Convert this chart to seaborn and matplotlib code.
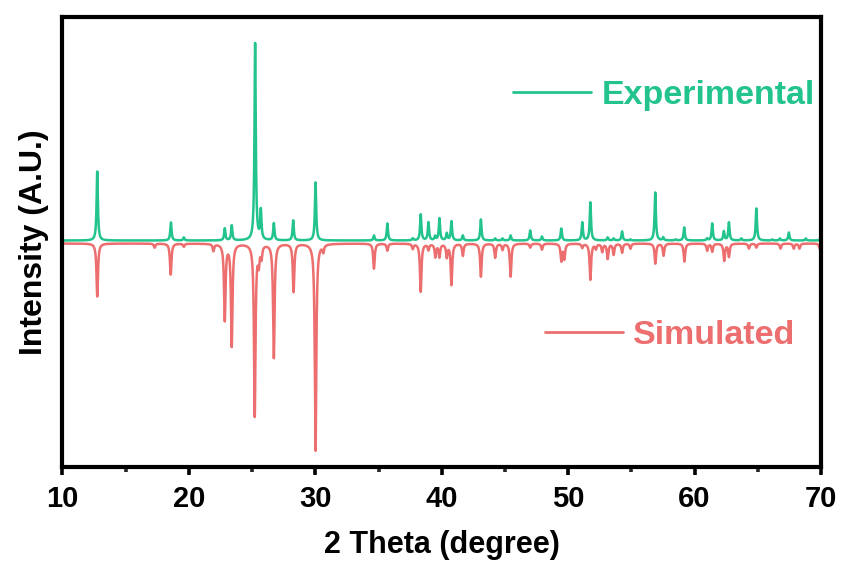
import numpy as np
import pandas as pd
import matplotlib
matplotlib.use("Agg")
import matplotlib.pyplot as plt
import seaborn as sns
from matplotlib.lines import Line2D
from matplotlib.ticker import MultipleLocator

# Peak positions (2θ, degree) and heights (arbitrary units)
exp_pos = [12.75, 18.58, 19.6, 22.84, 23.39, 25.24, 25.69, 26.72, 28.25, 30.02,
           34.64, 35.70, 37.71, 38.34, 38.95, 39.48, 39.82, 40.40, 40.77, 41.67,
           43.10, 44.23, 44.81, 45.45, 47.00, 47.93, 49.46, 51.12, 51.76, 53.13,
           53.60, 54.27, 54.93, 56.89, 57.52, 58.50, 59.18, 61.00, 61.40, 62.32,
           62.72, 63.70, 64.89, 66.15, 66.75, 67.46, 68.80, 69.95]
exp_int = [69, 18, 3, 12, 15, 197, 29, 17, 20, 58,
           5, 17, 2, 26, 18, 4, 22, 7, 19, 5,
           21, 2, 2, 5, 10, 4, 12, 18, 38, 3,
           2, 9, 1, 48, 3, 1, 13, 2, 17, 9,
           18, 2, 32, 1, 2, 8, 2, 2]

sim_pos = [12.75, 17.29, 18.56, 19.6, 21.94, 22.84, 23.39, 25.21, 25.53, 25.74,
           26.72, 28.28, 30.02, 30.63, 34.64, 35.70, 37.71, 38.34, 38.95, 39.50,
           39.82, 40.40, 40.77, 41.67, 43.10, 44.23, 44.81, 45.45, 47.00, 47.93,
           49.46, 49.70, 51.12, 51.76, 52.20, 52.70, 53.13, 53.60, 54.27, 54.93,
           56.90, 57.55, 59.20, 61.00, 61.40, 62.35, 62.72, 64.30, 64.89, 66.80,
           67.85, 68.30, 69.90]
sim_int = [53, 4, 31, 3, 7, 76, 102, 172, 17, 12,
           114, 48, 207, 7, 25, 7, 5, 48, 6, 13,
           13, 13, 41, 12, 33, 14, 6, 33, 4, 6,
           17, 15, 4, 36, 5, 8, 15, 11, 9, 5,
           20, 12, 18, 7, 8, 17, 13, 5, 4, 5,
           5, 5, 5]

labels = ["Experimental", "Simulated"]
colors = ["#22C38C", "#EC6E6E"]

two_theta = np.arange(10.0, 70.0001, 0.01)


def profile(pos, inten, hwhm):
    y = np.zeros_like(two_theta)
    for p, h in zip(pos, inten):
        y += h / (1.0 + ((two_theta - p) / hwhm) ** 2)
    return y


exp_curve = profile(exp_pos, exp_int, 0.06) + 1.5
sim_curve = -profile(sim_pos, sim_int, 0.07) - 1.5

df = pd.concat([
    pd.DataFrame({"2theta": two_theta, "I": sim_curve, "series": labels[1]}),
    pd.DataFrame({"2theta": two_theta, "I": exp_curve, "series": labels[0]}),
])

sns.set_theme(style="white")
plt.rcParams["font.family"] = ["Liberation Sans", "DejaVu Sans"]

fig = plt.figure(figsize=(8.42, 5.76), dpi=100)
ax = fig.add_axes([0.0742, 0.1892, 0.9008, 0.7813])

sns.lineplot(data=df, x="2theta", y="I", hue="series",
             hue_order=[labels[1], labels[0]],
             palette={labels[0]: colors[0], labels[1]: colors[1]},
             linewidth=1.8, ax=ax, legend=False, sort=False,
             estimator=None)

ax.set_xlim(10, 70)
ax.set_ylim(-225, 225)
ax.xaxis.set_major_locator(MultipleLocator(10))
ax.xaxis.set_minor_locator(MultipleLocator(5))
ax.set_yticks([])

for s in ax.spines.values():
    s.set_linewidth(3.0)
    s.set_color("black")

ax.tick_params(axis="x", which="major", direction="out", length=6, width=2.6,
               bottom=True, pad=7, labelsize=21, colors="black")
ax.tick_params(axis="x", which="minor", direction="out", length=3.5, width=2.6,
               bottom=True)
for lab in ax.get_xticklabels():
    lab.set_fontweight("bold")

ax.set_xlabel("2 Theta (degree)", fontsize=22, fontweight="bold",
              labelpad=12, color="black")
ax.set_ylabel("Intensity (A.U.)", fontsize=23, fontweight="bold",
              labelpad=10, color="black")

prop = {"weight": "bold", "size": 24.5}
h1 = [Line2D([], [], color=colors[0], linewidth=2.0)]
h2 = [Line2D([], [], color=colors[1], linewidth=2.0)]
leg1 = fig.legend(h1, [labels[0]], loc="center left",
                  bbox_to_anchor=(0.609, 0.835), frameon=False, prop=prop,
                  labelcolor=colors[0], handlelength=2.3, handletextpad=0.3,
                  borderpad=0, borderaxespad=0)
leg2 = fig.legend(h2, [labels[1]], loc="center left",
                  bbox_to_anchor=(0.647, 0.418), frameon=False, prop=prop,
                  labelcolor=colors[1], handlelength=2.3, handletextpad=0.3,
                  borderpad=0, borderaxespad=0)

fig.savefig("out.png", dpi=100)
